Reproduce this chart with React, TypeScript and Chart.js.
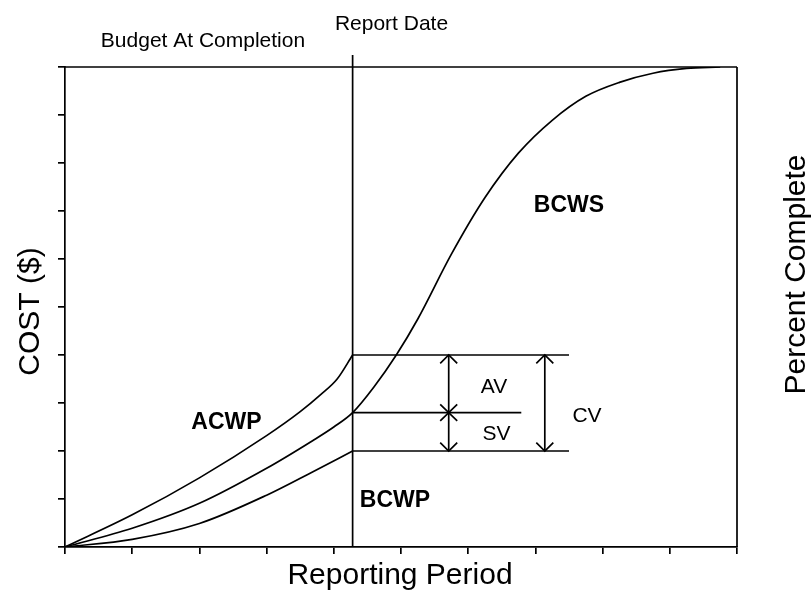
import React, { useEffect, useRef } from "react";
import { Chart, registerables } from "chart.js";

Chart.register(...registerables);

// Reporting period axis (0..10) and cost axis (0..100)
const periodTicks = [0, 1, 2, 3, 4, 5, 6, 7, 8, 9, 10];
const costTicks = [0, 10, 20, 30, 40, 50, 60, 70, 80, 90, 100];

const reportDate = 4.28;

// ACWP (actual cost of work performed) – stops at report date
const acwpX = [0, 1, 2, 3, 3.5, 3.8, 4.05, 4.28];
const acwpY = [0, 6.7, 14.4, 23.2, 28.2, 31.7, 35.0, 40];

// BCWP (budgeted cost of work performed) – stops at report date
const bcwpX = [0, 1, 2, 3, 3.69, 4.28];
const bcwpY = [0, 1.6, 4.9, 10.8, 15.7, 20];

// BCWS (budgeted cost of work scheduled) – S-curve
const bcwsX = [0, 1, 2, 3, 3.69, 4.0, 4.28, 4.6, 4.93, 5.25, 5.75, 6.25, 6.75, 7.25, 7.75, 8.25, 8.75, 9.25, 9.75];
const bcwsY = [0, 3.9, 9.1, 16.4, 22.2, 25.0, 28, 33.4, 40, 47.5, 61, 72.8, 82.1, 88.9, 93.9, 96.8, 98.7, 99.7, 100];

// Variance levels at report date
const varianceLevels = { acwp: 40, bcws: 28, bcwp: 20 };
const varianceLineEnd = 7.5;
const svLineEnd = 6.79;
const avArrowX = 5.71;
const cvArrowX = 7.14;

const FONT = "'Liberation Sans', Arial, Helvetica, sans-serif";
const LW = 1.7;

const toPoints = (xs: number[], ys: number[]) => xs.map((x, i) => ({ x, y: ys[i] }));

const annotationPlugin = {
  id: "evmAnnotations",
  afterDraw(chart: any) {
    const { ctx, chartArea: a, scales } = chart;
    const xs = scales.x;
    const ys = scales.y;
    ctx.save();
    ctx.strokeStyle = "#000";
    ctx.fillStyle = "#000";
    ctx.lineWidth = LW;
    const line = (x1: number, y1: number, x2: number, y2: number) => {
      ctx.beginPath();
      ctx.moveTo(x1, y1);
      ctx.lineTo(x2, y2);
      ctx.stroke();
    };
    // top & right frame
    line(a.left, a.top, a.right, a.top);
    line(a.right, a.top, a.right, a.bottom);

    // report date
    const rx = xs.getPixelForValue(reportDate);
    line(rx, a.top - 12, rx, a.bottom);

    const yA = ys.getPixelForValue(varianceLevels.acwp);
    const yS = ys.getPixelForValue(varianceLevels.bcws);
    const yP = ys.getPixelForValue(varianceLevels.bcwp);
    const xEnd = xs.getPixelForValue(varianceLineEnd);
    const xSv = xs.getPixelForValue(svLineEnd);
    line(rx, yA, xEnd, yA);
    line(rx, yS, xSv, yS);
    line(rx, yP, xEnd, yP);

    const head = (px: number, py: number, dir: number) => {
      ctx.beginPath();
      ctx.moveTo(px - 8.5, py + dir * 8.3);
      ctx.lineTo(px, py);
      ctx.lineTo(px + 8.5, py + dir * 8.3);
      ctx.stroke();
    };
    const dblArrow = (px: number, yTop: number, yBot: number) => {
      line(px, yTop, px, yBot);
      head(px, yTop, 1);
      head(px, yBot, -1);
    };
    const ax = xs.getPixelForValue(avArrowX);
    const cx = xs.getPixelForValue(cvArrowX);
    dblArrow(ax, yA, yS);
    dblArrow(ax, yS, yP);
    dblArrow(cx, yA, yP);

    const text = (t: string, x: number, y: number, size: number, bold = false) => {
      ctx.font = `${bold ? "bold " : ""}${size}px ${FONT}`;
      ctx.textAlign = "center";
      ctx.textBaseline = "alphabetic";
      ctx.fillText(t, x, y);
    };
    text("AV", 494, 392.5, 21);
    text("SV", 496.5, 440, 21);
    text("CV", 587, 421.5, 21);
    text("ACWP", 226.5, 429, 23, true);
    text("BCWS", 569, 211.5, 23, true);
    text("BCWP", 395, 506.5, 23, true);
    text("Report Date", 391.5, 30, 21);
    text("Budget At Completion", 203, 46.5, 21);
    text("Reporting Period", 400, 583.5, 30);

    const vtext = (t: string, x: number, y: number, size: number) => {
      ctx.save();
      ctx.translate(x, y);
      ctx.rotate(-Math.PI / 2);
      text(t, 0, 0, size);
      ctx.restore();
    };
    vtext("COST ($)", 38.5, 311.5, 30);
    vtext("Percent Complete", 805, 274.5, 30);
    ctx.restore();
  },
};

export default function App() {
  const ref = useRef<HTMLCanvasElement | null>(null);
  useEffect(() => {
    if (!ref.current) return;
    const lineStyle = {
      borderColor: "#000",
      borderWidth: LW,
      pointRadius: 0,
      fill: false,
      cubicInterpolationMode: "monotone" as const,
    };
    const chart = new Chart(ref.current, {
      type: "line",
      data: {
        datasets: [
          { label: "ACWP", data: toPoints(acwpX, acwpY), ...lineStyle },
          { label: "BCWS", data: toPoints(bcwsX, bcwsY), ...lineStyle },
          { label: "BCWP", data: toPoints(bcwpX, bcwpY), ...lineStyle },
        ],
      },
      options: {
        animation: false,
        responsive: false,
        devicePixelRatio: 1,
        layout: { padding: { left: 58, right: 75, top: 67, bottom: 42 } },
        plugins: { legend: { display: false }, tooltip: { enabled: false } },
        scales: {
          x: {
            type: "linear",
            min: periodTicks[0],
            max: periodTicks[periodTicks.length - 1],
            afterBuildTicks: (s: any) => {
              s.ticks = periodTicks.map((v) => ({ value: v }));
            },
            ticks: { display: false },
            grid: { drawOnChartArea: false, drawTicks: true, tickLength: 7, color: "#000", lineWidth: LW },
            border: { display: true, color: "#000", width: LW },
          },
          y: {
            type: "linear",
            min: costTicks[0],
            max: costTicks[costTicks.length - 1],
            afterBuildTicks: (s: any) => {
              s.ticks = costTicks.map((v) => ({ value: v }));
            },
            ticks: { display: false },
            grid: { drawOnChartArea: false, drawTicks: true, tickLength: 7, color: "#000", lineWidth: LW },
            border: { display: true, color: "#000", width: LW },
          },
        },
      },
      plugins: [annotationPlugin],
    });
    return () => chart.destroy();
  }, []);
  return (
    <div style={{ position: "fixed", left: 0, top: 0, width: 812, height: 596, background: "#fff" }}>
      <canvas ref={ref} width={812} height={596} style={{ display: "block" }} />
    </div>
  );
}
